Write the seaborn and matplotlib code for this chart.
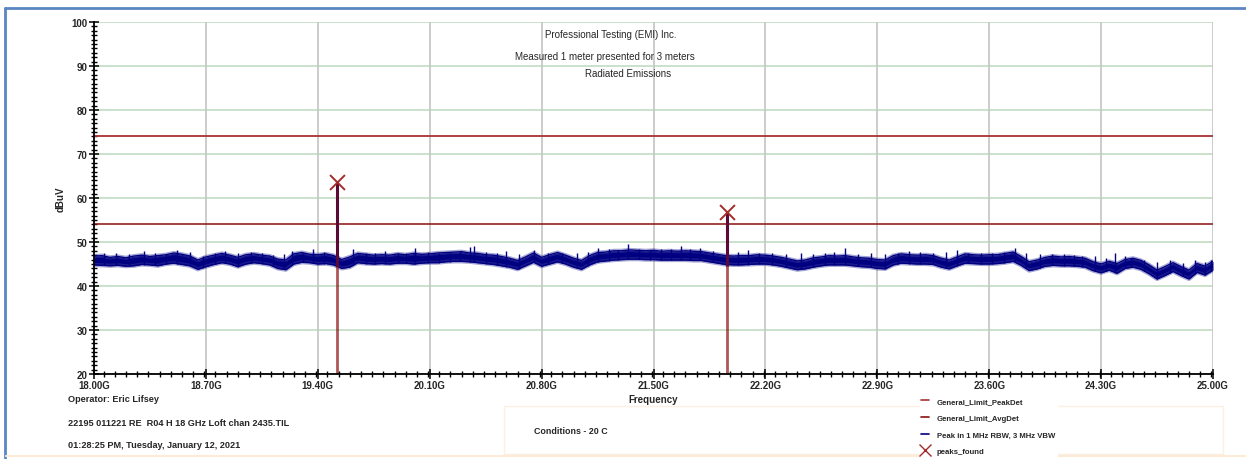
import numpy as np
import pandas as pd
import matplotlib
matplotlib.use("Agg")
import matplotlib.pyplot as plt
import matplotlib.patheffects as pe
import seaborn as sns
from matplotlib.lines import Line2D
from matplotlib.patches import Rectangle
from matplotlib.ticker import MultipleLocator, FixedLocator, FuncFormatter

sns.set_style("white")
plt.rcParams['font.family'] = ['Liberation Sans', 'DejaVu Sans']

# ---- data -------------------------------------------------------------
freq_start_ghz = 18.0
freq_step_ghz = 0.05
# envelope of the swept trace (max / min hold per frequency step)
trace_upper_dbuv = [
    46.8, 46.9, 46.5, 46.7, 46.4, 46.8, 47.0, 46.7, 46.9, 47.1,
    47.5, 47.2, 46.8, 45.9, 46.6, 47.0, 47.4, 47.0, 46.5, 47.1,
    47.3, 47.0, 46.8, 46.1, 45.9, 47.3, 47.6, 47.2, 47.1, 47.3,
    46.9, 46.0, 46.6, 47.4, 47.2, 47.0, 47.1, 47.0, 47.3, 47.1,
    47.4, 47.2, 47.3, 47.5, 47.6, 47.7, 47.8, 47.5, 47.4, 47.1,
    47.0, 46.7, 46.3, 45.8, 46.6, 47.5, 46.5, 47.1, 47.6, 47.0,
    46.3, 45.8, 46.9, 47.6, 47.7, 48.0, 48.0, 48.2, 48.1, 48.0,
    48.1, 47.9, 48.0, 47.9, 48.0, 47.9, 47.8, 47.5, 47.2, 46.9,
    46.8, 46.9, 46.9, 47.1, 47.0, 46.8, 46.5, 46.1, 45.7, 45.9,
    46.4, 46.6, 46.9, 46.8, 46.9, 46.6, 46.4, 46.3, 46.0, 45.9,
    46.9, 47.3, 47.1, 47.0, 47.1, 46.9, 46.3, 45.9, 46.6, 47.3,
    47.1, 47.0, 47.1, 47.1, 47.4, 47.7, 46.7, 45.5, 45.9, 46.5,
    46.8, 46.6, 46.7, 46.5, 46.3, 45.5, 45.0, 45.6, 45.1, 46.0,
    46.3, 45.8, 44.8, 43.6, 44.4, 45.3, 44.4, 43.6, 45.1, 44.5,
    45.6,
]
trace_lower_dbuv = [
    44.8, 44.7, 44.6, 44.7, 44.5, 44.6, 44.9, 44.8, 44.6, 45.0,
    45.2, 44.9, 44.6, 43.8, 44.4, 44.9, 45.3, 45.0, 44.4, 45.0,
    45.3, 45.1, 44.8, 44.0, 43.7, 45.0, 45.4, 45.3, 45.0, 45.1,
    44.8, 44.0, 44.3, 45.3, 45.1, 45.0, 45.1, 45.0, 45.2, 45.2,
    45.0, 45.2, 45.3, 45.3, 45.5, 45.6, 45.6, 45.5, 45.3, 45.1,
    44.9, 44.6, 44.3, 43.8, 44.6, 45.4, 44.5, 45.0, 45.5, 45.0,
    44.3, 43.8, 44.8, 45.5, 45.7, 45.9, 46.0, 46.1, 46.1, 46.0,
    46.0, 45.9, 45.9, 45.9, 45.9, 45.8, 45.8, 45.5, 45.2, 44.9,
    44.8, 44.8, 44.9, 45.0, 45.0, 44.8, 44.5, 44.1, 43.7, 43.9,
    44.3, 44.6, 44.8, 44.8, 44.8, 44.6, 44.4, 44.3, 44.0, 43.9,
    44.8, 45.2, 45.1, 45.0, 45.0, 44.9, 44.3, 43.9, 44.6, 45.2,
    45.1, 45.0, 45.0, 45.1, 45.3, 45.6, 44.7, 43.5, 43.9, 44.5,
    44.7, 44.6, 44.6, 44.5, 44.3, 43.5, 43.0, 43.6, 42.9, 44.0,
    44.3, 43.8, 42.8, 41.6, 42.4, 43.3, 42.4, 41.6, 43.1, 42.5,
    43.6,
]
# isolated noise spikes rising above the envelope
spike_freq_ghz = [18.06, 18.14, 18.22, 18.31, 18.38, 18.45, 18.52, 18.60, 18.68, 18.76,
                  18.82, 18.90, 18.98, 19.05, 19.12, 19.19, 19.24, 19.31, 19.37, 19.44,
                  19.62, 19.70, 19.76, 19.82, 19.90, 19.95, 20.01, 20.09, 20.16, 20.23,
                  20.29, 20.35, 20.38, 20.45, 20.52, 20.58, 20.66, 20.75, 20.84, 20.93,
                  21.02, 21.09, 21.15, 21.22, 21.28, 21.34, 21.41, 21.48, 21.55, 21.61,
                  21.67, 21.73, 21.79, 21.87, 22.03, 22.09, 22.16, 22.24, 22.33, 22.42,
                  22.50, 22.57, 22.63, 22.70, 22.78, 22.86, 22.95, 23.03, 23.10, 23.17,
                  23.25, 23.33, 23.40, 23.47, 23.55, 23.62, 23.69, 23.76, 23.83, 23.92,
                  23.99, 24.07, 24.13, 24.18, 24.26, 24.33, 24.39, 24.45, 24.49, 24.57,
                  24.65, 24.73, 24.81, 24.89, 24.95, 24.99]
spike_top_dbuv = [47.4, 47.6, 47.2, 48.0, 47.5, 47.3, 48.2, 47.8, 46.9, 47.6,
                  47.9, 47.4, 47.8, 47.5, 47.0, 47.2, 48.0, 47.6, 48.4, 47.7,
                  48.4, 47.6, 47.4, 47.9, 47.5, 47.6, 48.6, 47.8, 47.6, 47.5,
                  47.9, 48.9, 49.1, 47.8, 47.5, 48.0, 47.3, 48.2, 47.6, 47.4,
                  47.5, 47.7, 48.6, 48.3, 48.1, 49.5, 48.4, 48.2, 48.5, 48.3,
                  49.2, 48.4, 48.6, 48.0, 47.7, 48.2, 47.6, 47.4, 47.3, 47.5,
                  47.2, 47.5, 47.8, 48.6, 47.2, 47.6, 47.3, 47.6, 47.9, 47.8,
                  47.5, 47.7, 48.2, 47.6, 47.4, 47.6, 47.8, 48.6, 47.5, 47.3,
                  47.3, 47.2, 47.0, 46.9, 46.8, 46.4, 47.6, 46.8, 46.3, 46.0,
                  45.4, 45.8, 45.2, 45.8, 45.4, 45.8]
peak_freq_ghz = [19.517, 21.958]
peak_dbuv = [63.6, 56.9]
limit_peakdet_dbuv = 74.0
limit_avgdet_dbuv = 54.0
x_ticks_ghz = [18.00, 18.70, 19.40, 20.10, 20.80, 21.50, 22.20, 22.90, 23.60, 24.30, 25.00]
y_ticks_dbuv = [20, 30, 40, 50, 60, 70, 80, 90, 100]

title_lines = ["Professional Testing (EMI) Inc.",
               "Measured 1 meter presented for 3 meters",
               "Radiated Emissions"]
info_lines = ["Operator: Eric Lifsey",
              "22195 011221 RE  R04 H 18 GHz Loft chan 2435.TIL",
              "01:28:25 PM, Tuesday, January 12, 2021"]
conditions_text = "Conditions - 20 C"
legend_labels = ["General_Limit_PeakDet", "General_Limit_AvgDet",
                 "Peak in 1 MHz RBW, 3 MHz VBW", "peaks_found"]

# ---- colours ----------------------------------------------------------
NAVY = "#000080"
PEAKDET_RED = "#A83232"
AVGDET_RED = "#8B1010"
MARKER_RED = "#A52A2A"
GRID_H = "#C6DEC6"
GRID_V = "#C8C8C8"

freqs = freq_start_ghz + freq_step_ghz * np.arange(len(trace_upper_dbuv))
trace = pd.DataFrame({
    "freq": np.concatenate([freqs, freqs]),
    "level": np.concatenate([trace_upper_dbuv, trace_lower_dbuv]),
    "edge": ["max"] * len(freqs) + ["min"] * len(freqs),
})

fig = plt.figure(figsize=(12.46, 4.60), dpi=100)
ax = fig.add_axes([94 / 1246, 1 - 375 / 460, (1213 - 94) / 1246, (375 - 23) / 460])

# outer frame of the report page
fig.add_artist(Line2D([5 / 1246, 5 / 1246], [0, 1 - 9 / 460], transform=fig.transFigure,
                      color="#5B86C2", lw=2))
fig.add_artist(Line2D([5 / 1246, 1], [1 - 9 / 460, 1 - 9 / 460], transform=fig.transFigure,
                      color="#5B86C2", lw=2))
fig.add_artist(Line2D([6 / 1246, 1], [3 / 460, 3 / 460], transform=fig.transFigure,
                      color="#FBEBD8", lw=1.5))

# grid
for yv in y_ticks_dbuv:
    ax.axhline(yv, color=GRID_H, lw=1.3, zorder=0)
for xv in x_ticks_ghz:
    ax.axvline(xv, color=GRID_V, lw=1.3, zorder=0)

# limit lines
ax.axhline(limit_peakdet_dbuv, color=PEAKDET_RED, lw=1.3, zorder=2)
ax.axhline(limit_avgdet_dbuv, color=AVGDET_RED, lw=1.1, zorder=2)

# measured trace: band between min and max hold, plus its spikes
halo = [pe.Stroke(linewidth=3.0, foreground="#3A3AA0", alpha=0.45), pe.Normal()]
ax.fill_between(freqs, trace_lower_dbuv, trace_upper_dbuv, color=NAVY, lw=0, zorder=3)
n_before = len(ax.lines)
sns.lineplot(data=trace, x="freq", y="level", units="edge", estimator=None, ax=ax,
             color=NAVY, lw=1.0, zorder=3, legend=False)
for line in ax.lines[n_before:]:
    line.set_path_effects(halo)
spike_base = np.interp(spike_freq_ghz, freqs, trace_lower_dbuv)
ax.vlines(spike_freq_ghz, spike_base, spike_top_dbuv, color=NAVY, lw=1.0, zorder=3)

# signal spikes and detected peaks
for f, p in zip(peak_freq_ghz, peak_dbuv):
    ax.vlines(f, 44.5, p, color=NAVY, lw=2.2, zorder=3)
    ax.vlines(f, 20, p, color=AVGDET_RED, lw=2.0, alpha=0.7, zorder=4)
ax.scatter(peak_freq_ghz, peak_dbuv, marker="x", s=115, color=MARKER_RED,
           linewidths=1.4, zorder=5)

# axes
ax.set_xlim(18.0, 25.0)
ax.set_ylim(20, 100)
ax.xaxis.set_major_locator(FixedLocator(x_ticks_ghz))
ax.xaxis.set_minor_locator(MultipleLocator(0.07))
ax.yaxis.set_major_locator(FixedLocator(y_ticks_dbuv))
ax.yaxis.set_minor_locator(MultipleLocator(1))
ax.xaxis.set_major_formatter(FuncFormatter(lambda v, _: f"{v:.2f}G"))
ax.yaxis.set_major_formatter(FuncFormatter(lambda v, _: f"{v:.0f}"))
ax.tick_params(which="both", bottom=True, left=True, top=False, right=False)
ax.tick_params(which="major", direction="inout", length=7, width=1.1, color="black",
               labelsize=7, pad=1)
ax.tick_params(which="minor", direction="inout", length=4.5, width=1.0, color="black")
for lbl in ax.get_xticklabels() + ax.get_yticklabels():
    lbl.set_fontweight("bold")
for side in ("top", "right"):
    ax.spines[side].set_visible(False)
for side in ("left", "bottom"):
    ax.spines[side].set_color("black")
    ax.spines[side].set_linewidth(1.3)
    ax.spines[side].set_zorder(6)

ax.set_xlabel("Frequency", fontsize=7, fontweight="bold", labelpad=3)
ax.set_ylabel("dBuV", fontsize=7, fontweight="bold", labelpad=4)

# titles
for txt, xp, yp in zip(title_lines, [611, 605, 628], [35, 57, 74]):
    fig.text(xp / 1246, 1 - yp / 460, txt, ha="center", va="center", fontsize=7)

# report information
for txt, yp in zip(info_lines, [400, 424, 446]):
    fig.text(68 / 1246, 1 - yp / 460, txt, ha="left", va="center", fontsize=6.6,
             fontweight="bold")

fig.add_artist(Rectangle((504 / 1246, 1 - 455 / 460), (1223 - 504) / 1246, 48 / 460,
                         transform=fig.transFigure, fill=False, ec="#FBF0E2", lw=1))
fig.text(534 / 1246, 1 - 432 / 460, conditions_text, ha="left", va="center",
         fontsize=6.4, fontweight="bold")

handles = [
    Line2D([], [], color=PEAKDET_RED, lw=1.2),
    Line2D([], [], color=AVGDET_RED, lw=1.2),
    Line2D([], [], color=NAVY, lw=1.2),
    Line2D([], [], color=MARKER_RED, lw=0, marker="x", markersize=8, markeredgewidth=1.0),
]
leg = fig.legend(handles, legend_labels, loc="upper left",
                 bbox_to_anchor=(916 / 1246, 1 - 393 / 460), frameon=True,
                 prop={"size": 5.6, "weight": "bold"}, handlelength=1.0,
                 handletextpad=1.0, labelspacing=1.2, borderpad=0.2)
leg.get_frame().set_edgecolor("white")
leg.get_frame().set_facecolor("white")
leg.get_frame().set_alpha(1)

fig.savefig("out.png", dpi=100)
